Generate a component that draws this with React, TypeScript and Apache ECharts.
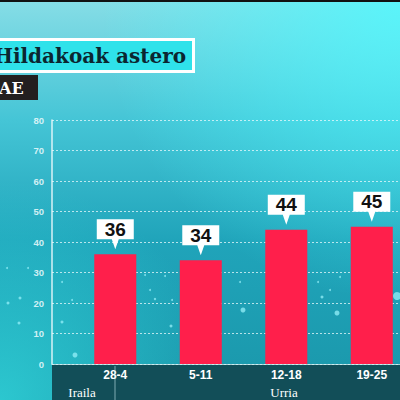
import React, { useEffect, useRef } from "react";
import * as echarts from "echarts";

const categories = ["28-4", "5-11", "12-18", "19-25"];
const values = [36, 34, 44, 45];
const yTicks = [0, 10, 20, 30, 40, 50, 60, 70, 80];
const months = ["Iraila", "Urria"];
const titleText = "Hildakoak astero";
const tagText = "AE";

export default function App() {
  const ref = useRef<HTMLDivElement>(null);
  useEffect(() => {
    if (!ref.current) return;
    const chart = echarts.init(ref.current, undefined, { renderer: "svg" });
    const barData = values.map((v, i) => [i + 1, v]);
    const dots = [
      [75, 355, 2.5], [62, 322, 1.5], [19, 323, 1.5], [243, 310, 2.5], [337, 313, 2.5],
      [397, 296, 4], [171, 326, 1.5], [20, 298, 1.5], [8, 303, 1.5], [220, 305, 1.2],
      [62, 282, 1], [72, 300, 1], [145, 275, 1], [165, 276, 1], [150, 290, 1],
      [240, 282, 1], [318, 282, 1], [330, 290, 1], [340, 277, 1], [322, 297, 1.5],
      [7, 268, 1], [28, 268, 1], [155, 299, 1.2], [172, 300, 1],
    ];
    chart.setOption({
      animation: false,
      backgroundColor: {
        type: "linear", x: 0, y: 0, x2: 0, y2: 1,
        colorStops: [
          { offset: 0, color: "#86dde6" },
          { offset: 0.3, color: "#45c5d6" },
          { offset: 0.6, color: "#20a4ba" },
          { offset: 1, color: "#1a97aa" },
        ],
      },
      grid: { left: 52, right: 0, top: 120, bottom: 36 },
      xAxis: {
        type: "value",
        min: 0.26,
        max: 4.33,
        axisLine: { show: true, lineStyle: { color: "rgba(210,245,248,0.8)", width: 1 } },
        axisTick: { show: false },
        splitLine: { show: false },
        axisLabel: {
          customValues: [1, 2, 3, 4],
          formatter: (v: number) => categories[Math.round(v) - 1] ?? "",
          color: "#ffffff",
          fontWeight: "bold",
          fontSize: 12,
          fontFamily: "Liberation Sans",
          margin: 5,
        },
      },
      yAxis: {
        type: "value",
        min: 0,
        max: 80,
        interval: 10,
        axisLine: { show: true, lineStyle: { color: "rgba(235,250,252,0.9)", width: 1.5 } },
        axisTick: { show: false },
        splitLine: { show: true, lineStyle: { color: "rgba(235,250,252,0.75)", type: [2, 2], width: 1 } },
        axisLabel: {
          color: "rgba(230,248,250,0.9)",
          fontSize: 9.5,
          fontWeight: "bold",
          fontFamily: "Liberation Sans",
          margin: 8,
          formatter: (v: number) => (yTicks.includes(v) ? String(v) : ""),
        },
      },
      series: [
        {
          type: "bar",
          data: barData,
          barWidth: 42,
          itemStyle: { color: "#ff1f4b" },
          markPoint: {
            symbol: "path://M0,0L37,0L37,20L22,20L18.5,30L15,20L0,20Z",
            symbolSize: [37, 30],
            symbolOffset: [0, -20],
            itemStyle: { color: "#ffffff" },
            label: {
              show: true,
              position: "inside",
              offset: [0, -5],
              color: "#111111",
              fontSize: 19,
              fontWeight: "bold",
              fontFamily: "Liberation Sans",
              formatter: (p: any) => String(p.value),
            },
            data: values.map((v, i) => ({ coord: [i + 1, v], value: v })),
          },
        },
      ],
      graphic: [
        {
          type: "rect", z: -30, silent: true, shape: { x: 0, y: 0, width: 400, height: 400 },
          style: {
            fill: {
              type: "radial", x: 0, y: 1, r: 0.55,
              colorStops: [
                { offset: 0, color: "rgba(50,215,220,0.75)" },
                { offset: 1, color: "rgba(50,215,220,0)" },
              ],
            },
          },
        },
        {
          type: "rect", z: -30, silent: true, shape: { x: 0, y: 0, width: 400, height: 400 },
          style: {
            fill: {
              type: "radial", x: 1, y: 0, r: 0.75,
              colorStops: [
                { offset: 0, color: "rgba(80,250,255,0.8)" },
                { offset: 1, color: "rgba(80,250,255,0)" },
              ],
            },
          },
        },
        ...dots.map(([x, y, r]) => ({
          type: "circle", z: -5, silent: true,
          shape: { cx: x, cy: y, r },
          style: { fill: "rgba(150,240,250,0.75)" },
        })),
        { type: "rect", z: -10, silent: true, shape: { x: 52, y: 364, width: 348, height: 36 }, style: { fill: "#124e58" } },
        { type: "line", z: 5, silent: true, shape: { x1: 115, y1: 366, x2: 115, y2: 400 }, style: { stroke: "rgba(200,235,240,0.6)", lineWidth: 1 } },
        { type: "text", z: 5, silent: true, x: 82, y: 392, style: { text: months[0], fill: "#ffffff", fontSize: 13, fontFamily: "Liberation Serif", align: "center", verticalAlign: "middle" } },
        { type: "text", z: 5, silent: true, x: 284, y: 392, style: { text: months[1], fill: "#ffffff", fontSize: 13, fontFamily: "Liberation Serif", align: "center", verticalAlign: "middle" } },
        { type: "rect", z: 5, silent: true, shape: { x: 0, y: 0, width: 400, height: 2 }, style: { fill: "#111111" } },
        { type: "rect", z: 5, silent: true, shape: { x: -10, y: 39.5, width: 203.5, height: 32 }, style: { fill: "#2fe2ea", stroke: "#ffffff", lineWidth: 3 } },
        { type: "text", z: 6, silent: true, x: -6, y: 56, style: { text: titleText, fill: "#0b2630", fontSize: 20, fontWeight: "bold", fontFamily: "DejaVu Serif", verticalAlign: "middle" } },
        { type: "rect", z: 5, silent: true, shape: { x: 0, y: 75, width: 38, height: 25 }, style: { fill: "#231f20" } },
        { type: "text", z: 6, silent: true, x: -1, y: 88, style: { text: tagText, fill: "#ffffff", fontSize: 16, fontWeight: "bold", fontFamily: "DejaVu Serif", verticalAlign: "middle" } },
      ],
    });
    return () => chart.dispose();
  }, []);
  return <div ref={ref} style={{ position: "fixed", left: 0, top: 0, width: 400, height: 400 }} />;
}
